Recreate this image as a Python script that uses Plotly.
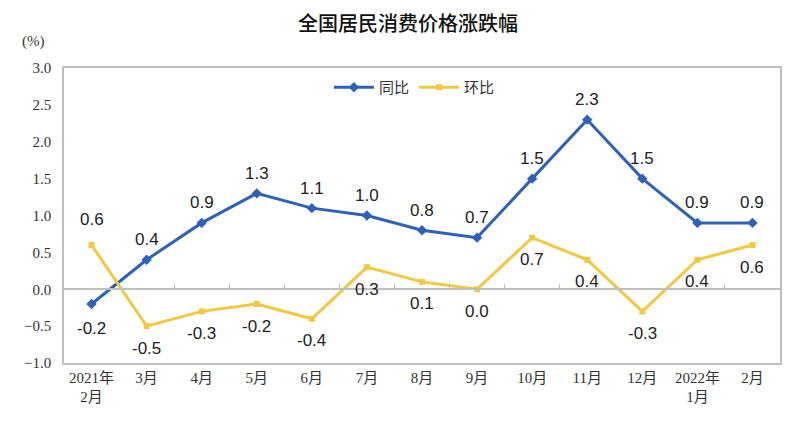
import plotly.graph_objects as go

# 月份标签
months = ["2021年<br>2月", "3月", "4月", "5月", "6月", "7月", "8月", "9月",
          "10月", "11月", "12月", "2022年<br>1月", "2月"]
# 同比 / 环比 (%)
yoy = [-0.2, 0.4, 0.9, 1.3, 1.1, 1.0, 0.8, 0.7, 1.5, 2.3, 1.5, 0.9, 0.9]
mom = [0.6, -0.5, -0.3, -0.2, -0.4, 0.3, 0.1, 0.0, 0.7, 0.4, -0.3, 0.4, 0.6]
y_ticks = [-1.0, -0.5, 0.0, 0.5, 1.0, 1.5, 2.0, 2.5, 3.0]

BLUE = "#2E62B6"
YELLOW = "#F2C840"
GRID = "#BFBFBF"
LABEL_FONT = dict(family="Liberation Sans, Arial", size=17, color="#222")
idx = list(range(len(months)))

fig = go.Figure()

# 同比
fig.add_trace(go.Scatter(
    x=idx, y=yoy, name="同比", mode="lines+markers",
    line=dict(color=BLUE, width=3),
    marker=dict(symbol="diamond", size=8, color=BLUE),
))

# 环比
fig.add_trace(go.Scatter(
    x=idx, y=mom, name="环比", mode="lines+markers",
    line=dict(color=YELLOW, width=3),
    marker=dict(symbol="square", size=6, color=YELLOW),
))

# 零轴上的刻度线 (用第二个 x 轴画)
fig.add_trace(go.Scatter(
    x=[idx[0], idx[-1]], y=[0, 0], xaxis="x2", mode="lines",
    line=dict(width=0), hoverinfo="skip", showlegend=False,
))

# 数据标签
annots = []
for i, v in enumerate(yoy):
    annots.append(dict(x=i, y=v, text=f"{v:.1f}", showarrow=False,
                       yshift=-24 if v < 0 else 20, font=LABEL_FONT))
for i, v in enumerate(mom):
    annots.append(dict(x=i, y=v, text=f"{v:.1f}", showarrow=False,
                       yshift=26 if i == 0 else -22, font=LABEL_FONT))
annots.append(dict(
    text="(%)", xref="paper", yref="paper", x=-0.062, y=1.09,
    xanchor="left", yanchor="middle", showarrow=False,
    font=dict(family="Liberation Serif", size=15, color="#333"),
))

fig.update_layout(
    width=792, height=425,
    paper_bgcolor="white", plot_bgcolor="white",
    margin=dict(l=56, r=20, t=60, b=70),
    title=dict(text="全国居民消费价格涨跌幅", x=0.505, xanchor="center",
               y=0.962, yanchor="middle",
               font=dict(family="Noto Sans CJK SC", size=20, color="#111",
                         weight=500)),
    font=dict(family="Noto Sans CJK SC", color="#222"),
    showlegend=True,
    legend=dict(orientation="h", x=0.37, y=0.99, xanchor="left",
                yanchor="top", bgcolor="rgba(0,0,0,0)",
                font=dict(family="Noto Sans CJK SC", size=15, color="#333"),
                itemwidth=40),
    xaxis=dict(
        range=[-0.5, len(months) - 0.5],
        tickvals=idx, ticktext=months,
        tickfont=dict(family="Liberation Serif, Noto Sans CJK SC", size=15,
                      color="#333"),
        showgrid=False, zeroline=False,
        showline=True, linecolor=GRID, linewidth=1.5, mirror=True,
        ticks="",
    ),
    xaxis2=dict(
        overlaying="x", anchor="free", position=0.25,
        range=[-0.5, len(months) - 0.5],
        tickvals=[i + 0.5 for i in idx[:-1]],
        showticklabels=False, ticks="inside", ticklen=5,
        tickcolor=GRID, tickwidth=1,
        showline=True, linecolor=GRID, linewidth=1.5,
        showgrid=False, zeroline=False,
    ),
    yaxis=dict(
        range=[-1.0, 3.0],
        tickvals=y_ticks, tickformat=".1f",
        tickfont=dict(family="Liberation Serif", size=15, color="#333"),
        showgrid=False, zeroline=False,
        showline=True, linecolor=GRID, linewidth=1.5, mirror=True,
        ticks="", ticklabelstandoff=8,
    ),
    annotations=annots,
)

fig.write_html("out.html")
